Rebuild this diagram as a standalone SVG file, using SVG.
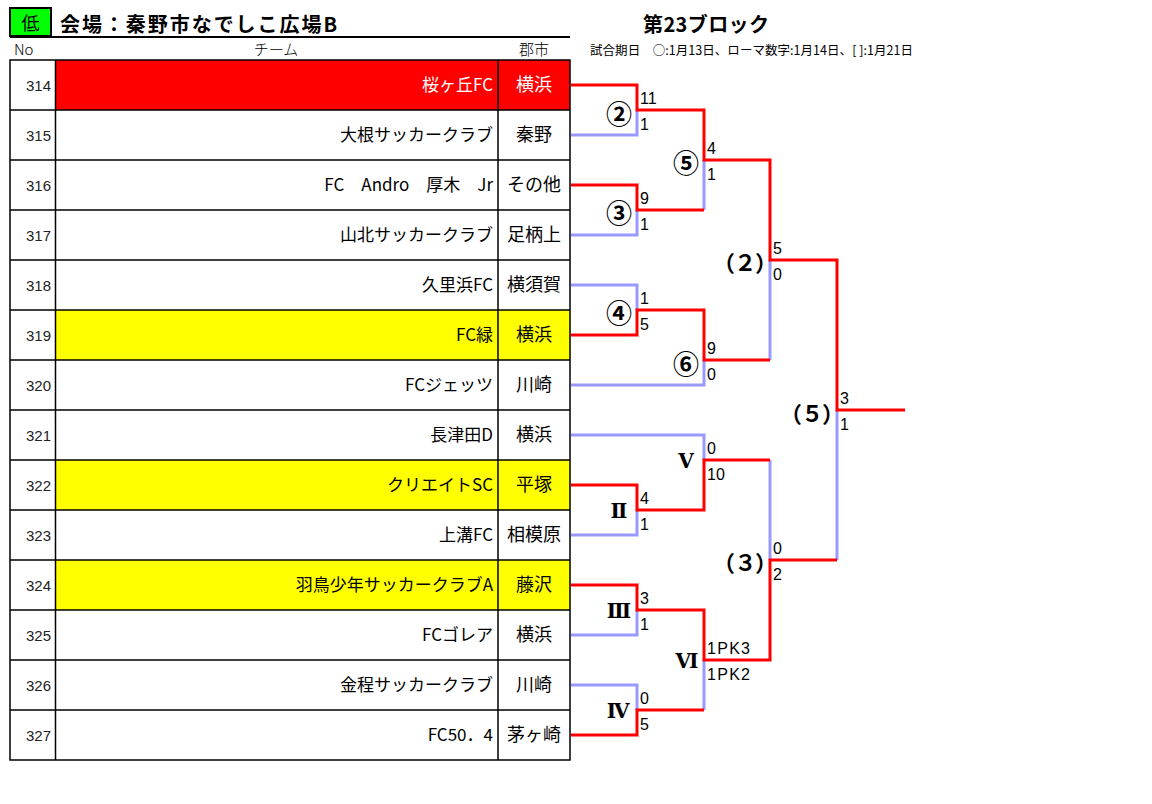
<svg xmlns="http://www.w3.org/2000/svg" width="1152" height="804" viewBox="0 0 1152 804">
<style>
  .jp { font-family: "Noto Sans CJK JP", "Liberation Sans", sans-serif; }
  .num { font-family: "Liberation Sans", "Noto Sans CJK JP", sans-serif; font-size: 15px; fill: #222; text-anchor: end; }
  .team { font-family: "Noto Sans CJK JP", "Liberation Sans", sans-serif; font-size: 17px; fill: #000; text-anchor: end; }
  .city { font-family: "Noto Sans CJK JP", "Liberation Sans", sans-serif; font-size: 18px; fill: #000; text-anchor: middle; }
  .grid { stroke: #000; stroke-width: 1.5; fill: none; }
  .w { stroke: #FF0000; stroke-width: 3; fill: none; stroke-linejoin: miter; }
  .l { stroke: #9999FF; stroke-width: 3; fill: none; stroke-linejoin: miter; }
  .sc { font-family: "Liberation Sans", "Noto Sans CJK JP", sans-serif; font-size: 16px; fill: #000; }
  .circ { font-family: "Noto Sans CJK JP", "DejaVu Sans", sans-serif; font-size: 26px; font-weight: bold; text-anchor: middle; dominant-baseline: central; fill: #000; }
  .rom { font-family: "DejaVu Serif", "Noto Sans CJK JP", serif; font-size: 20px; font-weight: bold; text-anchor: middle; dominant-baseline: central; fill: #000; }
  .par { font-family: "Noto Sans CJK JP", "Liberation Sans", sans-serif; font-size: 22px; font-weight: bold; text-anchor: middle; dominant-baseline: central; fill: #000; font-feature-settings: "palt" 1; }
</style>
<rect x="0" y="0" width="1152" height="804" fill="#FFFFFF"/>

<g id="header">
  <rect x="10" y="8" width="41" height="28" fill="#00FF00" stroke="#000" stroke-width="2"/>
  <text x="30.5" y="30" class="jp" font-size="18" text-anchor="middle" fill="#000">低</text>
  <text x="60" y="32" class="jp" font-size="20" font-weight="bold" fill="#000" textLength="277">会場：秦野市なでしこ広場B</text>
  <line x1="10" y1="37" x2="570" y2="37" stroke="#000" stroke-width="2"/>
  <text x="643" y="32" class="jp" font-size="20" font-weight="bold" fill="#000" textLength="126">第23ブロック</text>
  <text x="590" y="55" class="jp" font-size="12.5" fill="#000" textLength="323">試合期日　○:1月13日、ローマ数字:1月14日、[ ]:1月21日</text>
  <text x="14" y="55" class="jp" font-size="15" font-weight="300" fill="#000">No</text>
  <text x="276" y="55" class="jp" font-size="15" font-weight="300" fill="#000" text-anchor="middle">チーム</text>
  <text x="534" y="55" class="jp" font-size="15" font-weight="300" fill="#000" text-anchor="middle">郡市</text>
</g>

<g id="table">
  <rect x="55" y="60" width="515" height="50" fill="#FF0000"/>
  <rect x="55" y="310" width="515" height="50" fill="#FFFF00"/>
  <rect x="55" y="460" width="515" height="50" fill="#FFFF00"/>
  <rect x="55" y="560" width="515" height="50" fill="#FFFF00"/>
  <rect x="10" y="60" width="560" height="700" class="grid"/>
  <path class="grid" d="M55.5,60 V760 M498,60 V760 M10,110 H570 M10,160 H570 M10,210 H570 M10,260 H570 M10,310 H570 M10,360 H570 M10,410 H570 M10,460 H570 M10,510 H570 M10,560 H570 M10,610 H570 M10,660 H570 M10,710 H570"/>
</g>

<g id="team-314"><text x="51" y="91" class="num">314</text><text x="493" y="91" class="team" style="fill:#FFFFFF">桜ヶ丘FC</text><text x="534" y="91" class="city" style="fill:#FFFFFF">横浜</text></g>
<g id="team-315"><text x="51" y="141" class="num">315</text><text x="493" y="141" class="team">大根サッカークラブ</text><text x="534" y="141" class="city">秦野</text></g>
<g id="team-316"><text x="51" y="191" class="num">316</text><text x="493" y="191" class="team">FC　Andro　厚木　Jr</text><text x="534" y="191" class="city">その他</text></g>
<g id="team-317"><text x="51" y="241" class="num">317</text><text x="493" y="241" class="team">山北サッカークラブ</text><text x="534" y="241" class="city">足柄上</text></g>
<g id="team-318"><text x="51" y="291" class="num">318</text><text x="493" y="291" class="team">久里浜FC</text><text x="534" y="291" class="city">横須賀</text></g>
<g id="team-319"><text x="51" y="341" class="num">319</text><text x="493" y="341" class="team">FC緑</text><text x="534" y="341" class="city">横浜</text></g>
<g id="team-320"><text x="51" y="391" class="num">320</text><text x="493" y="391" class="team">FCジェッツ</text><text x="534" y="391" class="city">川崎</text></g>
<g id="team-321"><text x="51" y="441" class="num">321</text><text x="493" y="441" class="team">長津田D</text><text x="534" y="441" class="city">横浜</text></g>
<g id="team-322"><text x="51" y="491" class="num">322</text><text x="493" y="491" class="team">クリエイトSC</text><text x="534" y="491" class="city">平塚</text></g>
<g id="team-323"><text x="51" y="541" class="num">323</text><text x="493" y="541" class="team">上溝FC</text><text x="534" y="541" class="city">相模原</text></g>
<g id="team-324"><text x="51" y="591" class="num">324</text><text x="493" y="591" class="team">羽鳥少年サッカークラブA</text><text x="534" y="591" class="city">藤沢</text></g>
<g id="team-325"><text x="51" y="641" class="num">325</text><text x="493" y="641" class="team">FCゴレア</text><text x="534" y="641" class="city">横浜</text></g>
<g id="team-326"><text x="51" y="691" class="num">326</text><text x="493" y="691" class="team">金程サッカークラブ</text><text x="534" y="691" class="city">川崎</text></g>
<g id="team-327"><text x="51" y="741" class="num">327</text><text x="493" y="741" class="team">FC50．4</text><text x="534" y="741" class="city">茅ヶ崎</text></g>

<g id="connectors">
  <path class="l" d="M571,135 H637 V110"/>
  <path class="l" d="M571,235 H637 V210"/>
  <path class="l" d="M704,210 V160"/>
  <path class="l" d="M571,285 H637 V310"/>
  <path class="l" d="M571,385 H704 V360"/>
  <path class="l" d="M770,360 V260"/>
  <path class="l" d="M837,560 V410"/>
  <path class="l" d="M571,435 H704 V460"/>
  <path class="l" d="M571,535 H637 V510"/>
  <path class="l" d="M770,460 V560"/>
  <path class="l" d="M571,635 H637 V610"/>
  <path class="l" d="M571,685 H637 V710"/>
  <path class="l" d="M704,710 V660"/>
  <path class="w" d="M571,85 H637 V110 H704 V160 H770 V260 H837 V410 H905"/>
  <path class="w" d="M571,185 H637 V210 H704"/>
  <path class="w" d="M571,335 H637 V310 H704 V360 H770"/>
  <path class="w" d="M571,485 H637 V510 H704 V460 H770"/>
  <path class="w" d="M571,585 H637 V610 H704 V660 H770 V560 H837"/>
  <path class="w" d="M571,735 H637 V710 H704"/>
</g>

<g id="scores">
  <text x="640" y="104" class="sc">11</text><text x="640" y="130" class="sc">1</text>
  <text x="707" y="154" class="sc">4</text><text x="707" y="180" class="sc">1</text>
  <text x="640" y="204" class="sc">9</text><text x="640" y="230" class="sc">1</text>
  <text x="773" y="254" class="sc">5</text><text x="773" y="280" class="sc">0</text>
  <text x="640" y="304" class="sc">1</text><text x="640" y="330" class="sc">5</text>
  <text x="707" y="354" class="sc">9</text><text x="707" y="380" class="sc">0</text>
  <text x="840" y="404" class="sc">3</text><text x="840" y="430" class="sc">1</text>
  <text x="707" y="454" class="sc">0</text><text x="707" y="480" class="sc">10</text>
  <text x="640" y="504" class="sc">4</text><text x="640" y="530" class="sc">1</text>
  <text x="773" y="554" class="sc">0</text><text x="773" y="580" class="sc">2</text>
  <text x="640" y="604" class="sc">3</text><text x="640" y="630" class="sc">1</text>
  <text x="707" y="654" class="sc" textLength="43">1PK3</text><text x="707" y="680" class="sc" textLength="43">1PK2</text>
  <text x="640" y="704" class="sc">0</text><text x="640" y="730" class="sc">5</text>
</g>

<g id="match-labels">
  <text x="619" y="112" class="circ">②</text>
  <text x="686" y="161" class="circ">⑤</text>
  <text x="619" y="211" class="circ">③</text>
  <text x="619" y="311" class="circ">④</text>
  <text x="686" y="362" class="circ">⑥</text>
  <text x="745" y="261" class="par" textLength="44">（２）</text>
  <text x="812" y="412" class="par" textLength="44">（５）</text>
  <text x="745" y="561" class="par" textLength="44">（３）</text>
  <text x="686" y="461" class="rom">Ⅴ</text>
  <text x="619" y="511" class="rom">Ⅱ</text>
  <text x="619" y="611" class="rom">Ⅲ</text>
  <text x="687" y="661" class="rom">Ⅵ</text>
  <text x="618" y="711" class="rom">Ⅳ</text>
</g>
</svg>
